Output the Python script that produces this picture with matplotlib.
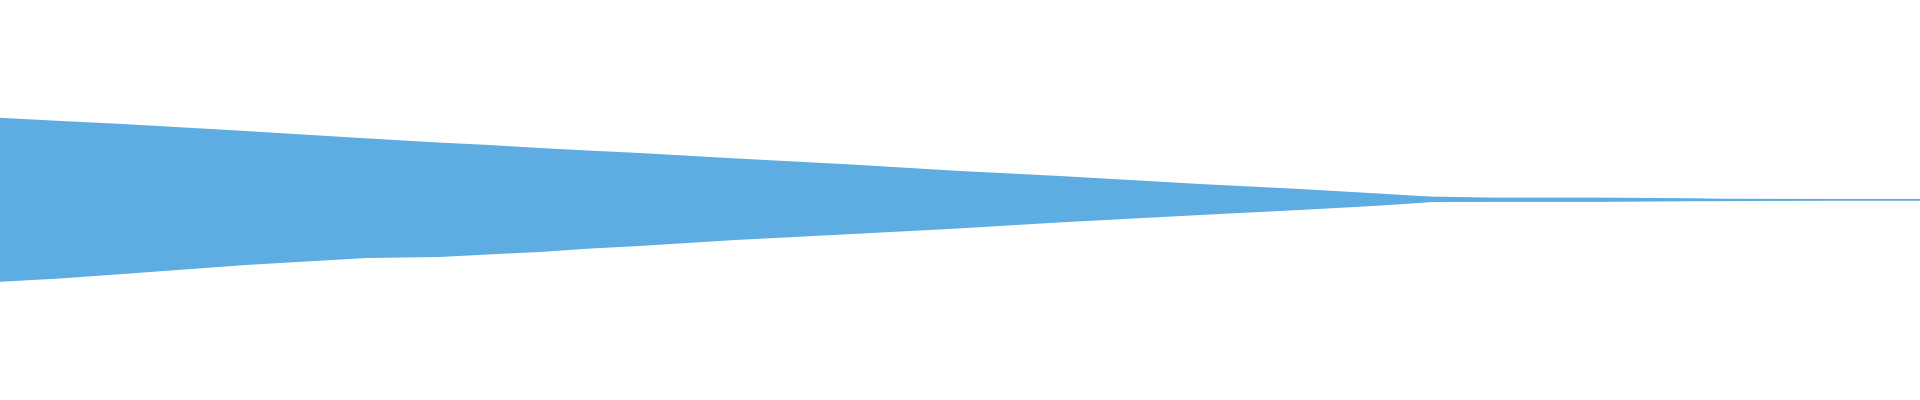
import numpy as np
import matplotlib
matplotlib.use("Agg")
import matplotlib.pyplot as plt

# posicion en el clip (0 = inicio, 1 = final)
posicion = [0.0, 0.032, 0.064, 0.128, 0.191, 0.229, 0.255, 0.281, 0.307, 0.333,
            0.383, 0.448, 0.5, 0.552, 0.625, 0.677, 0.717, 0.736, 0.746, 0.778,
            0.833, 0.882, 0.894, 0.951, 1.0]

# envolvente superior e inferior de la onda (amplitud normalizada)
envolvente_sup = [0.411, 0.395, 0.38, 0.345, 0.308, 0.287, 0.275, 0.26, 0.247, 0.235,
                  0.208, 0.175, 0.145, 0.12, 0.08, 0.055, 0.033, 0.022, 0.017, 0.012,
                  0.012, 0.0085, 0.0065, 0.005, 0.005]
envolvente_inf = [0.409, 0.392, 0.37, 0.325, 0.29, 0.285, 0.272, 0.26, 0.243, 0.23,
                  0.2, 0.168, 0.142, 0.112, 0.075, 0.05, 0.029, 0.017, 0.01, 0.0095,
                  0.0095, 0.006, 0.006, 0.0025, 0.0025]

color_onda = "#5dade2"

fig = plt.figure(figsize=(19.2, 4), dpi=100)
ax = fig.add_axes([0, 0, 1, 1])

t = np.array(posicion)
arriba = np.array(envolvente_sup)
abajo = -np.array(envolvente_inf)

ax.fill_between(t, abajo, arriba, color=color_onda, linewidth=0)
# linea central para que el final no desaparezca
ax.plot(t, (arriba + abajo) / 2, color=color_onda, linewidth=1.2)

ax.set_xlim(0, 1)
ax.set_ylim(-1, 1)
ax.axis("off")

fig.savefig("out.png", dpi=100, facecolor="white")
